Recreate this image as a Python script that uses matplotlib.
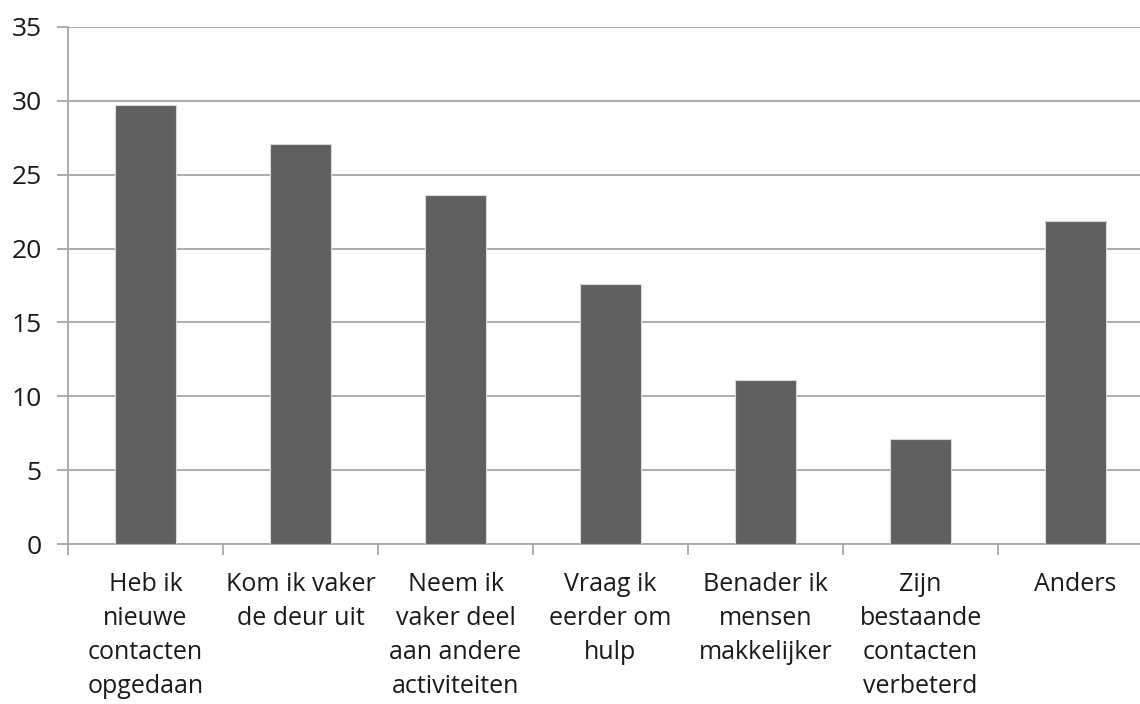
import numpy as np
import matplotlib.pyplot as plt
from matplotlib.ticker import FixedLocator

# categories and values
categories = [
    "Heb ik\nnieuwe\ncontacten\nopgedaan",
    "Kom ik vaker\nde deur uit",
    "Neem ik\nvaker deel\naan andere\nactiviteiten",
    "Vraag ik\neerder om\nhulp",
    "Benader ik\nmensen\nmakkelijker",
    "Zijn\nbestaande\ncontacten\nverbeterd",
    "Anders",
]
values = [29.7, 27.1, 23.6, 17.6, 11.1, 7.1, 21.9]
yticks = [0, 5, 10, 15, 20, 25, 30, 35]

plt.rcParams['font.family'] = ['Open Sans', 'DejaVu Sans']

fig = plt.figure(figsize=(11.4, 7.04), dpi=100)
ax = fig.add_axes([68 / 1140, 160 / 704, 1085 / 1140, 517 / 704])

x = np.arange(len(categories))
ax.bar(x, values, width=0.39, color='#606060', edgecolor='#d8d8d8', linewidth=0.8, zorder=3)

ax.set_xlim(-0.5, len(categories) - 0.5)
ax.set_ylim(0, 35)
ax.set_yticks(yticks)
ax.yaxis.grid(True, color='#a6a6a6', linewidth=1.3, zorder=0)

ax.set_xticks(x)
ax.set_xticklabels(categories, fontsize=18, color='#1a1a1a', linespacing=1.48, va='top')
ax.xaxis.set_minor_locator(FixedLocator(np.arange(-0.5, len(categories), 1.0)))
ax.tick_params(axis='x', which='major', length=0, pad=20)
ax.tick_params(axis='x', which='minor', length=8, width=1.3, color='#a6a6a6', direction='out')
ax.tick_params(axis='y', length=8, width=1.3, color='#a6a6a6', labelsize=19,
               labelcolor='#1a1a1a', pad=11)

for side in ['top', 'right']:
    ax.spines[side].set_visible(False)
for side in ['left', 'bottom']:
    ax.spines[side].set_color('#a6a6a6')
    ax.spines[side].set_linewidth(1.3)

fig.savefig('out.png', dpi=100)
